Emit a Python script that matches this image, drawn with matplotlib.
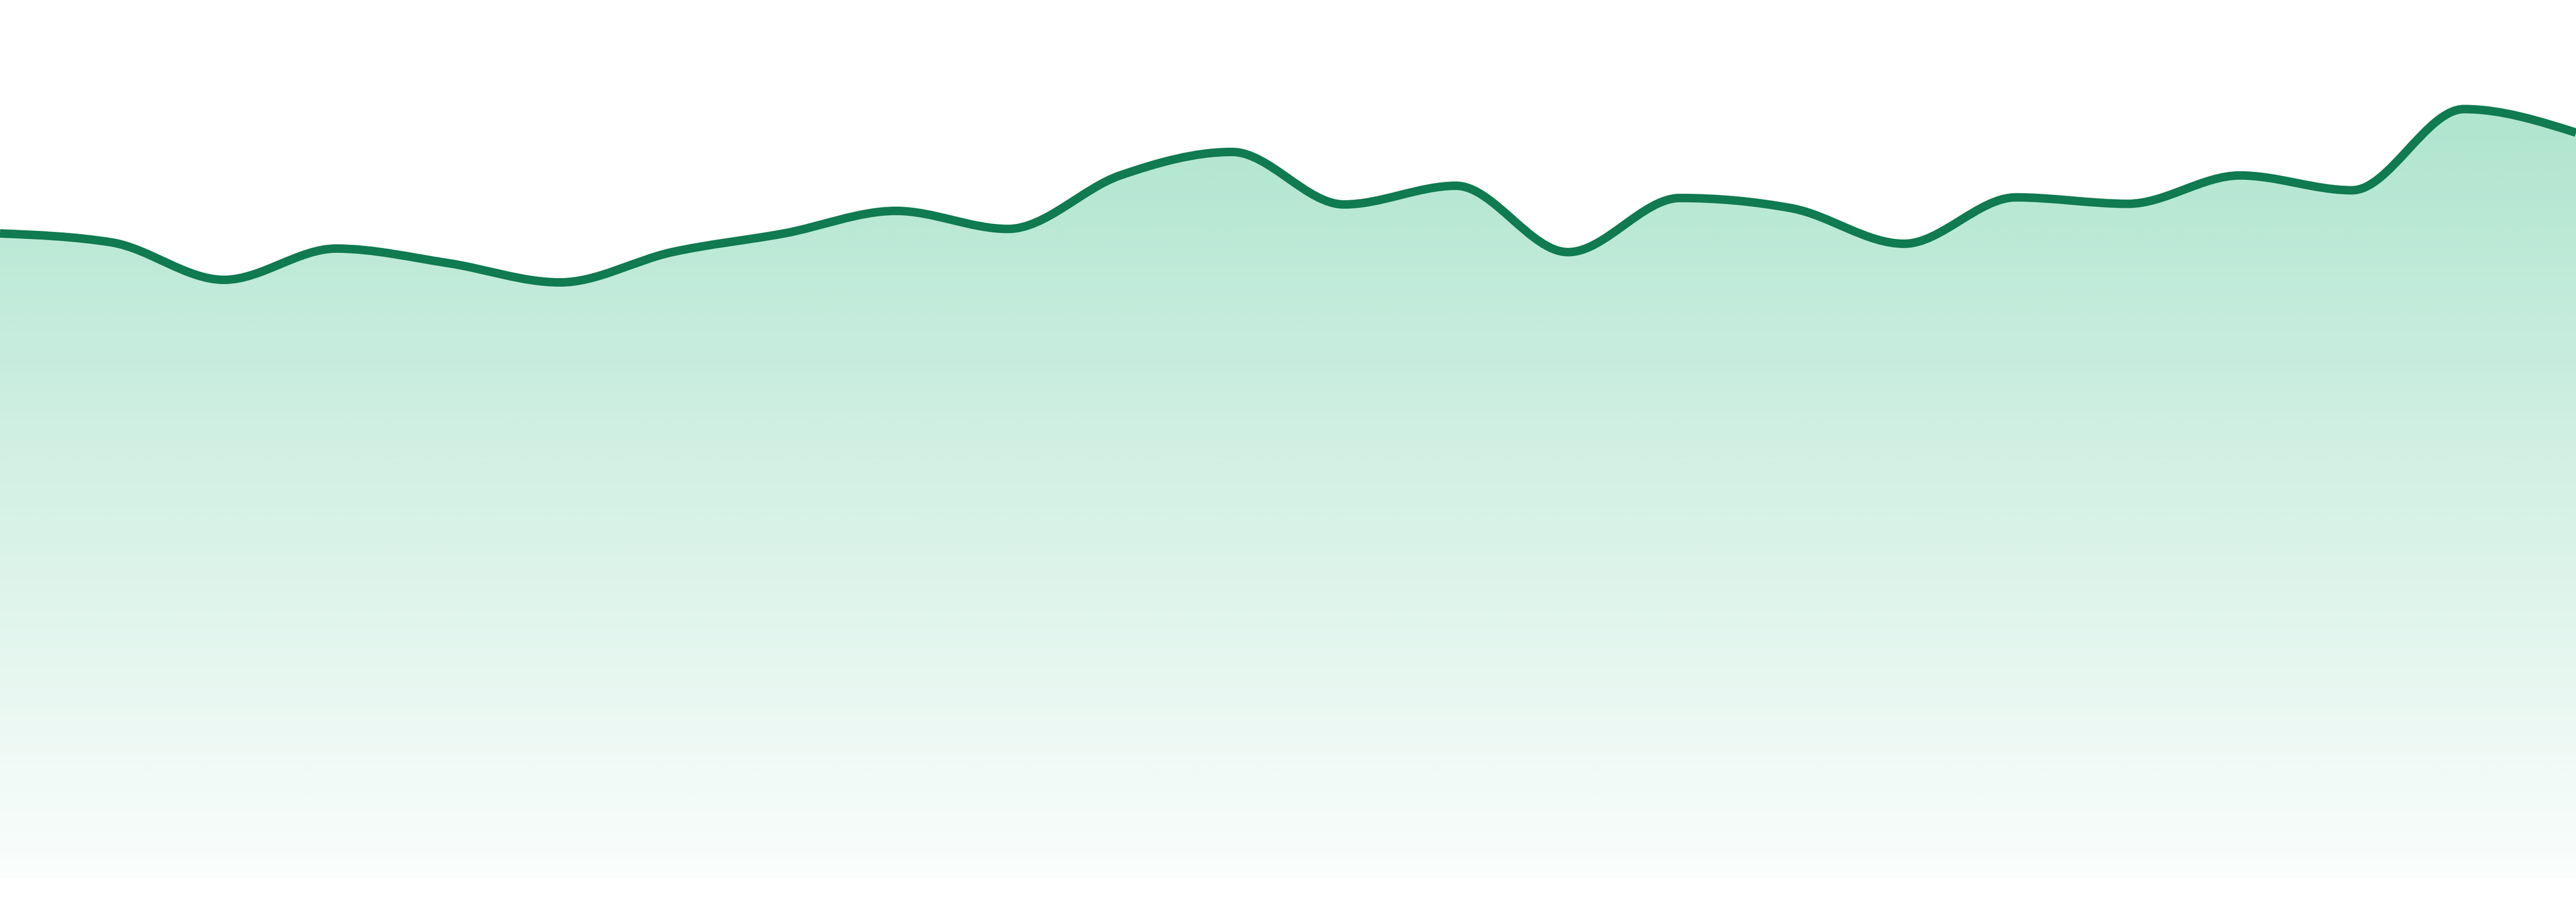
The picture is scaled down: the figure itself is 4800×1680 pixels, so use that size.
import numpy as np
import matplotlib
matplotlib.use("Agg")
import matplotlib.pyplot as plt
from matplotlib.path import Path
from matplotlib.patches import PathPatch

# ---- data ----
x_index = list(range(24))
values = [100.1, 98.7, 92.9, 97.75, 95.5, 92.5, 97.2, 100.1, 103.6, 100.8,
          109.1, 112.75, 104.6, 107.5, 97.2, 105.6, 104.0, 98.5, 105.7, 104.7,
          109.1, 106.8, 119.4, 115.75]

LINE_COLOR = "#107a50"
FILL_RGB = (16 / 255, 177 / 255, 112 / 255)


def monotone_tangents(x, y):
    x = np.asarray(x, float)
    y = np.asarray(y, float)
    n = len(x)
    h = np.diff(x)
    s = np.diff(y) / h
    t = np.zeros(n)
    for i in range(1, n - 1):
        h0, h1 = h[i - 1], h[i]
        s0, s1 = s[i - 1], s[i]
        p = (s0 * h1 + s1 * h0) / (h0 + h1)
        t[i] = (np.sign(s0) + np.sign(s1)) * min(abs(s0), abs(s1), 0.5 * abs(p))
    t[0] = (3 * s[0] - t[1]) / 2
    t[-1] = (3 * s[-1] - t[-2]) / 2
    return t


def curve_vertices(x, y):
    t = monotone_tangents(x, y)
    verts = [(x[0], y[0])]
    codes = [Path.MOVETO]
    for i in range(len(x) - 1):
        dx = (x[i + 1] - x[i]) / 3.0
        verts += [(x[i] + dx, y[i] + dx * t[i]),
                  (x[i + 1] - dx, y[i + 1] - dx * t[i + 1]),
                  (x[i + 1], y[i + 1])]
        codes += [Path.CURVE4] * 3
    return verts, codes


fig = plt.figure(figsize=(16, 5.6), dpi=300)
bottom_frac = 44 / 1680
ax = fig.add_axes([0, bottom_frac, 1, 1 - bottom_frac])
ymax = 1636 / 12
ax.set_xlim(x_index[0], x_index[-1])
ax.set_ylim(0, ymax)
ax.axis("off")

verts, codes = curve_vertices(x_index, values)

# area path
fverts = verts + [(x_index[-1], 0), (x_index[0], 0), (x_index[0], values[0])]
fcodes = codes + [Path.LINETO, Path.LINETO, Path.CLOSEPOLY]
fill_patch = PathPatch(Path(fverts, fcodes), facecolor="none", edgecolor="none")
ax.add_patch(fill_patch)

# vertical gradient
nrows = 800
vrows = np.linspace(ymax, 0, nrows)
vtop = max(values)
a_top, a_bot = 0.335, 0.02
alpha = a_bot + (a_top - a_bot) * np.clip(vrows / vtop, 0, 1)
grad = np.zeros((nrows, 2, 4))
grad[..., 0] = FILL_RGB[0]
grad[..., 1] = FILL_RGB[1]
grad[..., 2] = FILL_RGB[2]
grad[..., 3] = alpha[:, None]
im = ax.imshow(grad, extent=[x_index[0], x_index[-1], 0, ymax], aspect="auto",
               interpolation="bilinear", origin="upper", zorder=1)
im.set_clip_path(fill_patch)

# line
line_patch = PathPatch(Path(verts, codes), facecolor="none", edgecolor=LINE_COLOR,
                       linewidth=3.8, zorder=3, capstyle="butt", joinstyle="round")
ax.add_patch(line_patch)

fig.savefig("out.png", dpi=300, facecolor="white")
